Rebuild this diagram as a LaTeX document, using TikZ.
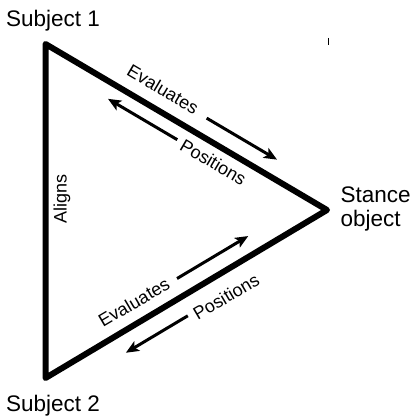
\documentclass[tikz,border=0pt]{standalone}
\usepackage{fontspec}
\setmainfont{Liberation Sans}
\usetikzlibrary{calc,arrows.meta}

\tikzset{
  side/.style={line width=6pt, line join=round},
  flow/.style={line width=3pt, -{Stealth[length=13pt,width=11pt,inset=3pt]}},
  corner/.style={font=\fontsize{22.5}{23.4}\selectfont},
  tag/.style={font=\fontsize{18}{20}\selectfont, inner sep=0pt},
}

\begin{document}
\begin{tikzpicture}[x=1pt,y=1pt]
\useasboundingbox (0,0) rectangle (411,418);

% Triangle
\coordinate (s1) at (45.5,374);
\coordinate (s2) at (45.5,40);
\coordinate (obj) at (327,208);

\draw[side] (s1) -- (obj) -- (s2) -- cycle;

\node[corner, anchor=base] (subj1) at (53,391.3) {Subject 1};
\node[corner, anchor=base] (subj2) at (53,6.3) {Subject 2};
\node[corner, anchor=west, align=left, inner sep=0pt] (stance) at (340.5,209)
{Stance\\object};

\node[tag, rotate=90] (aligns) at (62,219) {Aligns};

% Subject 1 and the object
\coordinate (ev1from) at ($(s1)!0.54!(obj)!18pt!90:(obj)$);
\coordinate (ev1to) at ($(s1)!0.79!(obj)!18pt!90:(obj)$);
\draw[flow] (ev1from) -- (ev1to);
\node[tag, rotate=-30.5] (ev1) at ($(s1)!0.38!(obj)!20.7pt!90:(obj)$) {Evaluates};

\coordinate (po1from) at ($(s1)!0.496!(obj)!15.5pt!-90:(obj)$);
\coordinate (po1to) at ($(s1)!0.25!(obj)!15.5pt!-90:(obj)$);
\draw[flow] (po1from) -- (po1to);
\node[tag, rotate=-30.5] (po1) at ($(s1)!0.626!(obj)!16.6pt!-90:(obj)$) {Positions};

% Subject 2 and the object
\coordinate (ev2from) at ($(s2)!0.50!(obj)!18pt!90:(obj)$);
\coordinate (ev2to) at ($(s2)!0.753!(obj)!18pt!90:(obj)$);
\draw[flow] (ev2from) -- (ev2to);
\node[tag, rotate=30.5] (ev2) at ($(s2)!0.35!(obj)!19.7pt!90:(obj)$) {Evaluates};

\coordinate (po2from) at ($(s2)!0.47!(obj)!19.5pt!-90:(obj)$);
\coordinate (po2to) at ($(s2)!0.25!(obj)!19.5pt!-90:(obj)$);
\draw[flow] (po2from) -- (po2to);
\node[tag, rotate=30.5] (po2) at ($(s2)!0.60!(obj)!22.7pt!-90:(obj)$) {Positions};

% tick
\draw[line width=1pt] (328,380) -- (328,373);

\end{tikzpicture}
\end{document}
